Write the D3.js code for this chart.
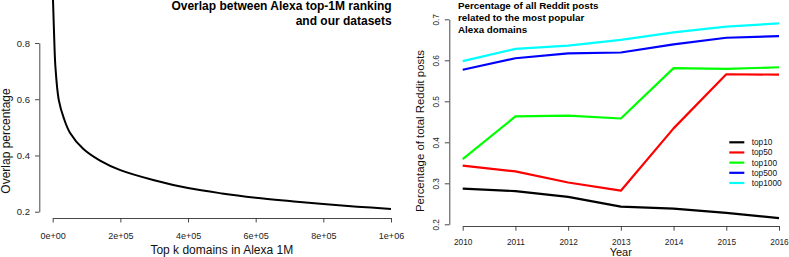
<!DOCTYPE html>
<html>
<head>
<meta charset="utf-8">
<script src="https://cdn.jsdelivr.net/npm/d3@7"></script>
<style>
  html, body { margin: 0; padding: 0; background: #fff; }
  svg { display: block; font-family: "Liberation Sans", Arial, Helvetica, sans-serif; }
</style>
</head>
<body>
<script>
// left panel: overlap curve
var rankK   = [1, 500, 1500, 4000, 8000, 18000, 33000, 51000, 90000, 140000, 200000,
               300000, 400000, 500000, 600000, 700000, 800000, 900000, 1000000];
var overlap = [1.00, 0.97, 0.93, 0.835, 0.716, 0.597, 0.532, 0.481, 0.424, 0.382, 0.348,
               0.312, 0.284, 0.265, 0.250, 0.238, 0.227, 0.218, 0.210];
var leftXTicks = [0, 200000, 400000, 600000, 800000, 1000000];
var leftYTicks = [0.2, 0.4, 0.6, 0.8];

// right panel: reddit posts by year
var years   = [2010, 2011, 2012, 2013, 2014, 2015, 2016];
var top10   = [0.287, 0.281, 0.267, 0.243, 0.238, 0.228, 0.215];
var top50   = [0.343, 0.329, 0.302, 0.282, 0.434, 0.566, 0.565];
var top100  = [0.359, 0.463, 0.465, 0.458, 0.581, 0.579, 0.583];
var top500  = [0.577, 0.605, 0.617, 0.619, 0.639, 0.655, 0.659];
var top1000 = [0.598, 0.628, 0.636, 0.650, 0.668, 0.682, 0.690];
var seriesNames  = ['top10', 'top50', 'top100', 'top500', 'top1000'];
var seriesColors = ['#000000', '#ff0000', '#00ff00', '#0000ff', '#00ffff'];
var rightYTicks = [0.2, 0.3, 0.4, 0.5, 0.6, 0.7];

var W = 789, H = 257;
var svg = d3.select('body').append('svg').attr('width', W).attr('height', H);

// R style scientific labels: 2e+05
function sci(v){
  if (v === 0) return '0e+00';
  var e = Math.floor(Math.log10(v));
  var m = Math.round(v / Math.pow(10, e));
  return m + 'e+' + (e < 10 ? '0' + e : e);
}

function styleAxis(g, size){
  g.select('.domain').attr('stroke', '#333').attr('stroke-width', 0.9);
  g.selectAll('.tick line').attr('stroke', '#333').attr('stroke-width', 0.9);
  g.selectAll('.tick text').attr('fill', '#222').style('font-size', size + 'px')
    .style('font-family', '"Liberation Sans", Arial, sans-serif');
}

// ---------- left ----------
var xL = d3.scaleLinear().domain([0, 1000000]).range([52.7, 391]);
var yL = d3.scaleLinear().domain([0.2, 0.8]).range([211.7, 43]);

var gx = svg.append('g').attr('transform', 'translate(0,218)')
  .call(d3.axisBottom(xL).tickValues(leftXTicks).tickFormat(sci)
        .tickSize(4.5).tickSizeOuter(0).tickPadding(10));
styleAxis(gx, 9);

var gy = svg.append('g').attr('transform', 'translate(39.3,0)')
  .call(d3.axisLeft(yL).tickValues(leftYTicks).tickFormat(d3.format('.1f'))
        .tickSize(4.3).tickSizeOuter(0).tickPadding(5));
styleAxis(gy, 9.5);

var leftPts = rankK.map(function(k, i){ return [k, overlap[i]]; });
svg.append('path')
  .datum(leftPts)
  .attr('fill', 'none')
  .attr('stroke', '#000')
  .attr('stroke-width', 2)
  .attr('d', d3.line()
    .x(function(d){ return xL(d[0]); })
    .y(function(d){ return yL(d[1]); })
    .curve(d3.curveCatmullRom.alpha(0.5)));

svg.append('text').attr('x', 221.8).attr('y', 254)
  .attr('text-anchor', 'middle').style('font-size', '12px').attr('fill', '#111')
  .text('Top k domains in Alexa 1M');
svg.append('text').attr('transform', 'translate(9.5,141) rotate(-90)')
  .attr('text-anchor', 'middle').style('font-size', '12px').attr('fill', '#111')
  .text('Overlap percentage');

var leftTitle = ['Overlap between Alexa top-1M ranking', 'and our datasets'];
svg.selectAll('.ltitle').data(leftTitle).enter().append('text')
  .attr('class', 'ltitle')
  .attr('x', 391.7)
  .attr('y', function(d, i){ return 10.2 + i * 14.7; })
  .attr('text-anchor', 'end')
  .style('font-size', '12px').style('font-weight', 'bold').attr('fill', '#000')
  .text(function(d){ return d; });

// ---------- right ----------
var xR = d3.scaleLinear().domain([2010, 2016]).range([462.7, 779]);
var yR = d3.scaleLinear().domain([0.2, 0.7]).range([224.3, 19.3]);

var gxr = svg.append('g').attr('transform', 'translate(0,226)')
  .call(d3.axisBottom(xR).tickValues(years).tickFormat(d3.format('d'))
        .tickSize(4.7).tickSizeOuter(0).tickPadding(8));
styleAxis(gxr, 8.3);

var gyr = svg.append('g').attr('transform', 'translate(449.3,0)')
  .call(d3.axisLeft(yR).tickValues(rightYTicks).tickFormat(d3.format('.1f'))
        .tickSize(4.5).tickSizeOuter(0));
styleAxis(gyr, 8.3);
gyr.selectAll('.tick text')
  .attr('x', null).attr('dy', null)
  .attr('text-anchor', 'middle')
  .attr('transform', 'translate(-10.6,0) rotate(-90)');

var seriesData = [top10, top50, top100, top500, top1000];
var lineR = d3.line()
  .x(function(d, i){ return xR(years[i]); })
  .y(function(d){ return yR(d); });

svg.selectAll('.series').data(seriesData).enter().append('path')
  .attr('class', 'series')
  .attr('fill', 'none')
  .attr('stroke', function(d, i){ return seriesColors[i]; })
  .attr('stroke-width', 2.2)
  .attr('stroke-linejoin', 'round')
  .attr('d', lineR);

svg.append('text').attr('x', 620.8).attr('y', 256.2)
  .attr('text-anchor', 'middle').style('font-size', '11px').attr('fill', '#111')
  .text('Year');
svg.append('text').attr('transform', 'translate(424.4,131) rotate(-90)')
  .attr('text-anchor', 'middle').style('font-size', '11.4px').attr('fill', '#111')
  .text('Percentage of total Reddit posts');

var rightTitle = ['Percentage of all Reddit posts', 'related to the most popular', 'Alexa domains'];
svg.selectAll('.rtitle').data(rightTitle).enter().append('text')
  .attr('class', 'rtitle')
  .attr('x', 458)
  .attr('y', function(d, i){ return 9.2 + i * 11.8; })
  .style('font-size', '9.8px').style('font-weight', 'bold').attr('fill', '#000')
  .text(function(d){ return d; });

// legend
var leg = svg.selectAll('.leg').data(seriesNames).enter().append('g')
  .attr('class', 'leg')
  .attr('transform', function(d, i){ return 'translate(0,' + (142.3 + i * 10.17) + ')'; });
leg.append('line').attr('x1', 729.3).attr('x2', 744.3)
  .attr('stroke', function(d, i){ return seriesColors[i]; })
  .attr('stroke-width', 2.2);
leg.append('text').attr('x', 751.7).attr('y', 3)
  .style('font-size', '8.3px').attr('fill', '#111')
  .text(function(d){ return d; });
</script>
</body>
</html>
